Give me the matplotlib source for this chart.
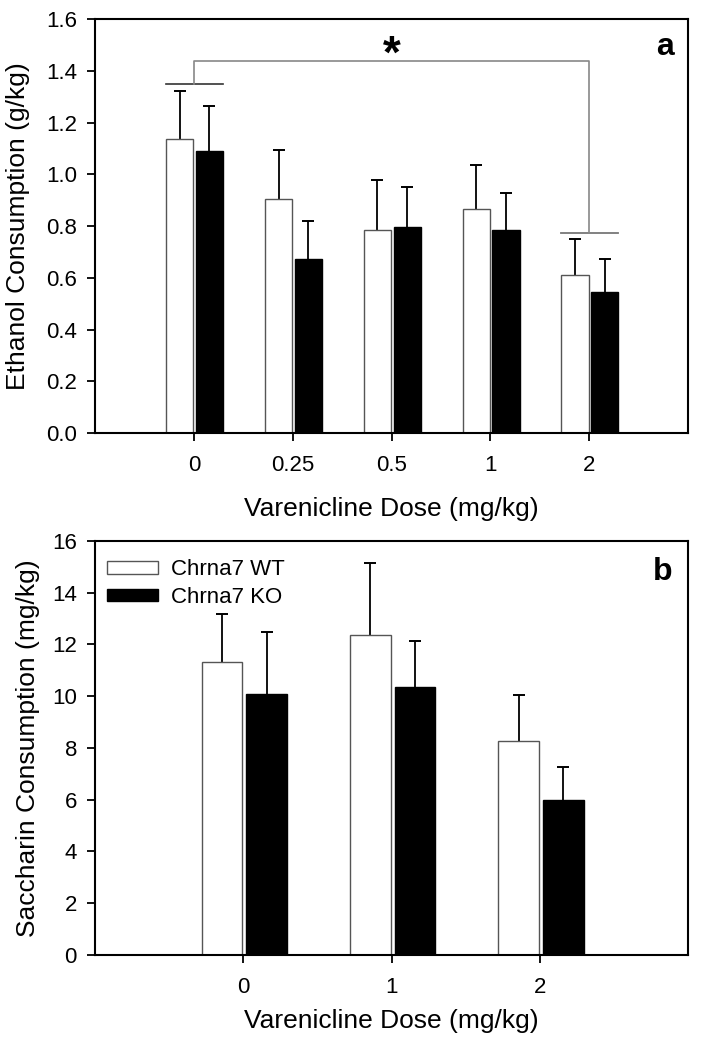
import matplotlib
matplotlib.use("Agg")
import matplotlib.pyplot as plt
import numpy as np
from matplotlib.patches import Patch

plt.rcParams['font.family'] = ['Liberation Sans', 'DejaVu Sans']

# Panel a data
doses_a = ["0", "0.25", "0.5", "1", "2"]
wt_a = [1.135, 0.906, 0.785, 0.866, 0.610]
wt_a_err = [0.188, 0.187, 0.194, 0.169, 0.139]
ko_a = [1.091, 0.674, 0.797, 0.786, 0.546]
ko_a_err = [0.174, 0.146, 0.153, 0.143, 0.125]

# Panel b data
doses_b = ["0", "1", "2"]
wt_b = [11.32, 12.35, 8.27]
wt_b_err = [1.86, 2.81, 1.78]
ko_b = [10.07, 10.34, 5.99]
ko_b_err = [2.41, 1.79, 1.28]

legend_labels = ["Chrna7 WT", "Chrna7 KO"]

fig = plt.figure(figsize=(7.01, 10.5), dpi=100)
ax1 = fig.add_axes([0.1355, 0.5876, 0.846, 0.3943])
ax2 = fig.add_axes([0.1355, 0.0905, 0.846, 0.3943])

W = 0.275
WT_OFF = -0.143
KO_OFF = 0.158

TICK_FS = 16
LABEL_FS = 19

def errbars(ax, x, y, e):
    res = ax.errorbar(x, y, yerr=[np.zeros(len(y)), e], fmt='none', ecolor='black',
                      elinewidth=1.3, capsize=4.5, capthick=1.4, zorder=1)
    caps = res[1]
    if len(caps) == 2:
        caps[0].set_visible(False)

def draw(ax, cats, wt, wte, ko, koe):
    x = np.arange(len(cats))
    ax.bar(x + WT_OFF, wt, W, color='white', edgecolor='#555555', linewidth=1.0, zorder=2)
    ax.bar(x + KO_OFF, ko, W, color='black', edgecolor='black', linewidth=1.0, zorder=2)
    errbars(ax, x + WT_OFF, wt, wte)
    errbars(ax, x + KO_OFF, ko, koe)
    ax.set_xticks(x)
    ax.set_xticklabels(cats)
    ax.set_xlim(-1, len(cats))
    for s in ax.spines.values():
        s.set_linewidth(1.5)
    ax.tick_params(axis='both', direction='out', length=6, width=1.3, labelsize=TICK_FS,
                   top=False, right=False)
    ax.tick_params(axis='x', pad=10)
    ax.tick_params(axis='y', pad=7)
    return x

x1 = draw(ax1, doses_a, wt_a, wt_a_err, ko_a, ko_a_err)
ax1.set_ylim(0, 1.6)
yt = np.arange(0, 1.61, 0.2)
ax1.set_yticks(yt)
ax1.set_yticklabels([f"{v:.1f}" for v in yt])
ax1.set_ylabel("Ethanol Consumption (g/kg)", fontsize=LABEL_FS, labelpad=11.5)
ax1.set_xlabel("Varenicline Dose (mg/kg)", fontsize=LABEL_FS, labelpad=15)
ax1.text(0.961, 0.932, "a", transform=ax1.transAxes, ha='center', va='center',
         fontsize=23, fontweight='bold')

# significance bracket
g0_l, g0_r = x1[0] + WT_OFF - W/2, x1[0] + KO_OFF + W/2
g4_l, g4_r = x1[4] + WT_OFF - W/2, x1[4] + KO_OFF + W/2
y_top, y_left, y_right = 1.438, 1.349, 0.774
ax1.plot([g0_l, g0_r], [y_left, y_left], color='#333333', lw=1.2)
ax1.plot([g4_l, g4_r], [y_right, y_right], color='#777777', lw=1.3)
ax1.plot([x1[0], x1[0], x1[4], x1[4]], [y_left, y_top, y_top, y_right], color='#888888', lw=1.2)
ax1.text(x1[2], 1.458, "*", ha='center', va='center', fontsize=33, fontweight='bold')

x2 = draw(ax2, doses_b, wt_b, wt_b_err, ko_b, ko_b_err)
ax2.set_ylim(0, 16)
ax2.set_yticks(np.arange(0, 17, 2))
ax2.set_ylabel("Saccharin Consumption (mg/kg)", fontsize=LABEL_FS, labelpad=8.5)
ax2.set_xlabel("Varenicline Dose (mg/kg)", fontsize=LABEL_FS, labelpad=8)
ax2.text(0.958, 0.925, "b", transform=ax2.transAxes, ha='center', va='center',
         fontsize=23, fontweight='bold')
handles = [Patch(facecolor='white', edgecolor='#555555', linewidth=1.0),
           Patch(facecolor='black', edgecolor='black')]
ax2.legend(handles, legend_labels, loc='upper left', frameon=False, fontsize=16,
           handlelength=2.3, handleheight=0.5, borderaxespad=0, borderpad=0,
           labelspacing=0.3, handletextpad=0.6, bbox_to_anchor=(0.02, 0.956))

fig.savefig("out.png", dpi=100)
